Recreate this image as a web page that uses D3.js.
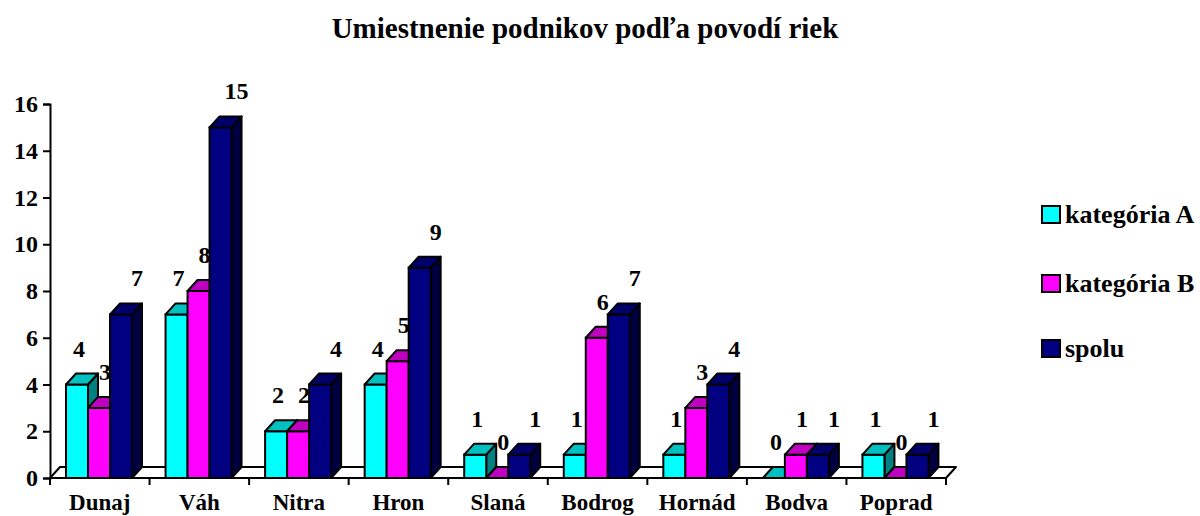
<!DOCTYPE html>
<html><head><meta charset="utf-8">
<script src="https://cdn.jsdelivr.net/npm/d3@7"></script>
<style>
body{margin:0;background:#fff;}
</style></head>
<body><svg id="c" width="1200" height="516"></svg>
<script>
const title = "Umiestnenie podnikov podľa povodí riek";
const categories = ["Dunaj","Váh","Nitra","Hron","Slaná","Bodrog","Hornád","Bodva","Poprad"];
const seriesNames = ["kategória A","kategória B","spolu"];
const katA = [4,7,2,4,1,1,1,0,1];
const katB = [3,8,2,5,0,6,3,1,0];
const spolu = [7,15,4,9,1,7,4,1,1];
const yTicks = [0,2,4,6,8,10,12,14,16];

const seriesValues = [katA, katB, spolu];
const faceColors = [
  {front:"#00FFFF", top:"#00C0C0", side:"#008080"},
  {front:"#FF00FF", top:"#C000C0", side:"#800080"},
  {front:"#000080", top:"#000068", side:"#000040"}
];
const labelDx = [2,6,16];
const FF = '"Liberation Serif"';

function txt(sel, size){
  return sel.style("font-family",FF).style("font-weight","bold").style("font-size",size+"px").attr("fill","#000");
}

const svg = d3.select("#c");
const y = d3.scaleLinear().domain([0,16]).range([478,104]);
const x = d3.scaleBand().domain(categories).range([50,946]).paddingInner(0).paddingOuter(0);
const xs = d3.scaleBand().domain([0,1,2]).range([16,82]).padding(0);
const dx = 10, dy = 11;
const y0 = y(0), x0 = x.range()[0], x1 = x.range()[1];

// title
txt(svg.append("text").attr("x",585).attr("y",38).attr("text-anchor","middle"),29).text(title);

// floor
svg.append("path")
  .attr("d",`M${x0},${y0}L${x0+dx},${y0-dy}L${x1+dx},${y0-dy}L${x1},${y0}Z`)
  .attr("fill","#fff").attr("stroke","#000").attr("stroke-width",2).attr("stroke-linejoin","round");

// y axis
const yAxis = svg.append("g").attr("transform",`translate(${x0},0)`)
  .call(d3.axisLeft(y).tickValues(yTicks).tickSize(7).tickPadding(5).tickFormat(d3.format("d")));
yAxis.attr("font-family",null).attr("font-size",null);
yAxis.select(".domain").attr("stroke","#000").attr("stroke-width",2);
yAxis.selectAll(".tick line").attr("stroke","#000").attr("stroke-width",2);
txt(yAxis.selectAll(".tick text"),24);

// x axis line and ticks
svg.append("line").attr("x1",x0).attr("x2",x1).attr("y1",y0).attr("y2",y0)
  .attr("stroke","#000").attr("stroke-width",2);
const bounds = categories.map(c=>x(c)).concat([x1]);
svg.selectAll(".xt").data(bounds).enter().append("line")
  .attr("x1",d=>d).attr("x2",d=>d).attr("y1",y0).attr("y2",y0+7)
  .attr("stroke","#000").attr("stroke-width",2);
txt(svg.selectAll(".xl").data(categories).enter().append("text")
  .attr("x",d=>x(d)+x.bandwidth()/2).attr("y",510).attr("text-anchor","middle"),23).text(d=>d);

// bars
const barsG = svg.append("g");
categories.forEach((cat,ci)=>{
  seriesValues.forEach((vals,si)=>{
    const v = vals[ci];
    const bx = x(cat)+xs(si), bw = xs.bandwidth();
    const top = y(v);
    const g = barsG.append("g");
    const col = faceColors[si];
    if (v > 0) {
      g.append("path").attr("d",`M${bx+bw},${top}L${bx+bw+dx},${top-dy}L${bx+bw+dx},${y0-dy}L${bx+bw},${y0}Z`)
        .attr("fill",col.side).attr("stroke","#000").attr("stroke-width",2).attr("stroke-linejoin","round");
      g.append("rect").attr("x",bx).attr("y",top).attr("width",bw).attr("height",y0-top)
        .attr("fill",col.front).attr("stroke","#000").attr("stroke-width",2);
    }
    g.append("path").attr("d",`M${bx},${top}L${bx+dx},${top-dy}L${bx+bw+dx},${top-dy}L${bx+bw},${top}Z`)
      .attr("fill",col.top).attr("stroke","#000").attr("stroke-width",2).attr("stroke-linejoin","round");
    txt(g.append("text").attr("x",bx+bw/2+labelDx[si]).attr("y",top-28).attr("text-anchor","middle"),24).text(v);
  });
});

// legend
const lg = svg.append("g");
const legY = [223,292,357];
seriesNames.forEach((n,i)=>{
  lg.append("rect").attr("x",1042).attr("y",legY[i]-17).attr("width",18).attr("height",17)
    .attr("fill",faceColors[i].front).attr("stroke","#000").attr("stroke-width",2);
  txt(lg.append("text").attr("x",1065).attr("y",legY[i]),26).text(n);
});
</script></body></html>
